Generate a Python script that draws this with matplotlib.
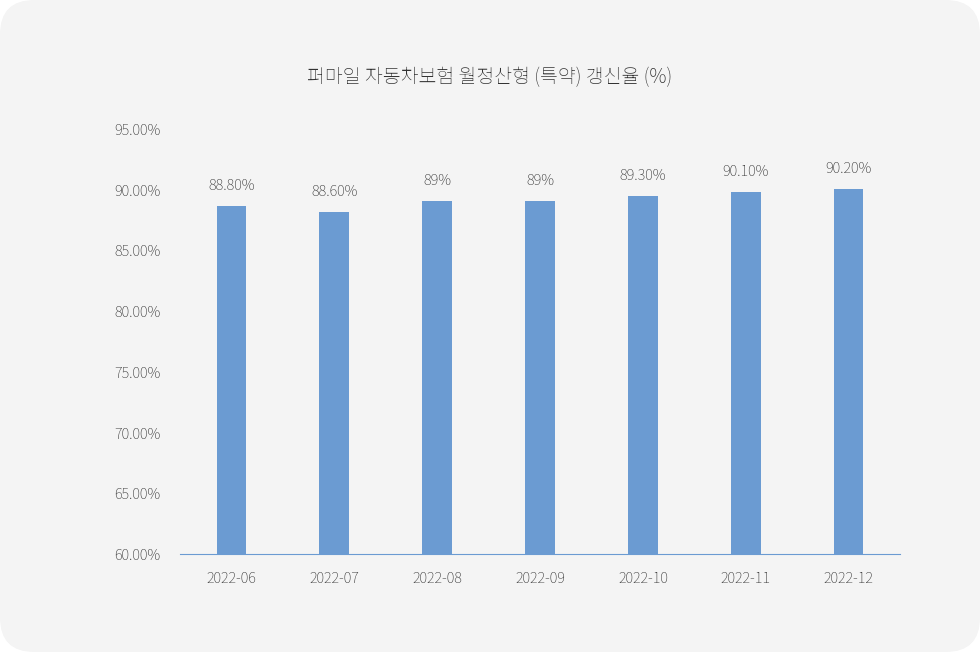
import matplotlib
matplotlib.use("Agg")
import matplotlib.pyplot as plt
from matplotlib import font_manager as fm
from matplotlib.patches import FancyBboxPatch
from matplotlib.ticker import FuncFormatter

categories = ["2022-06", "2022-07", "2022-08", "2022-09", "2022-10", "2022-11", "2022-12"]
values = [88.66, 88.17, 89.08, 89.05, 89.49, 89.82, 90.07]
labels = ["88.80%", "88.60%", "89%", "89%", "89.30%", "90.10%", "90.20%"]
yticks = [60, 65, 70, 75, 80, 85, 90, 95]

names = {f.name for f in fm.fontManager.ttflist}
cjk = None
for n in ["Noto Sans CJK KR", "Noto Sans KR", "Noto Sans CJK JP", "Noto Sans CJK SC", "Noto Sans CJK TC"]:
    if n in names:
        cjk = n
        break
if cjk is None:
    for f in fm.findSystemFonts():
        if "CJK" in f:
            fm.fontManager.addfont(f)
            cjk = fm.FontProperties(fname=f).get_name()
            break
plt.rcParams["font.family"] = [cjk or "DejaVu Sans", "DejaVu Sans"]

fig = plt.figure(figsize=(9.8, 6.52), dpi=100)
fig.patch.set_facecolor("white")
card = FancyBboxPatch((0.0, 0.0), 1, 1, boxstyle="round,pad=0,rounding_size=0.035",
                      transform=fig.transFigure, facecolor="#f4f4f4", edgecolor="none",
                      mutation_aspect=980/652, zorder=-10)
fig.patches.append(card)

ax = fig.add_axes([180/980, 1-554/652, 720/980, 425/652])
ax.set_zorder(5)
ax.set_facecolor("none")
x = list(range(len(categories)))
ax.bar(x, values, width=0.29, color="#6b9bd2")
ax.set_ylim(60, 95)
ax.set_xlim(-0.5, len(categories)-0.5)
ax.set_yticks(yticks)
ax.yaxis.set_major_formatter(FuncFormatter(lambda v, p: f"{v:.2f}%"))
ax.set_xticks(x)
ax.set_xticklabels(categories)
for s in ["top", "right", "left"]:
    ax.spines[s].set_visible(False)
ax.spines["bottom"].set_color("#6b9bd2")
ax.tick_params(axis="both", length=0, labelsize=10.5, colors="#333333")
ax.tick_params(axis="x", pad=12)
ax.tick_params(axis="y", pad=14)
for xi, v, lab in zip(x, values, labels):
    ax.annotate(lab, (xi, v), xytext=(0, 20), textcoords="offset pixels",
                ha="center", va="center", fontsize=10.5, color="#333333")
fig.text(0.5, 1-77/652, "퍼마일 자동차보험 월정산형 (특약) 갱신율 (%)", ha="center", va="center",
         fontsize=14, fontweight="bold", color="#333333")
fig.savefig("out.png", dpi=100)
